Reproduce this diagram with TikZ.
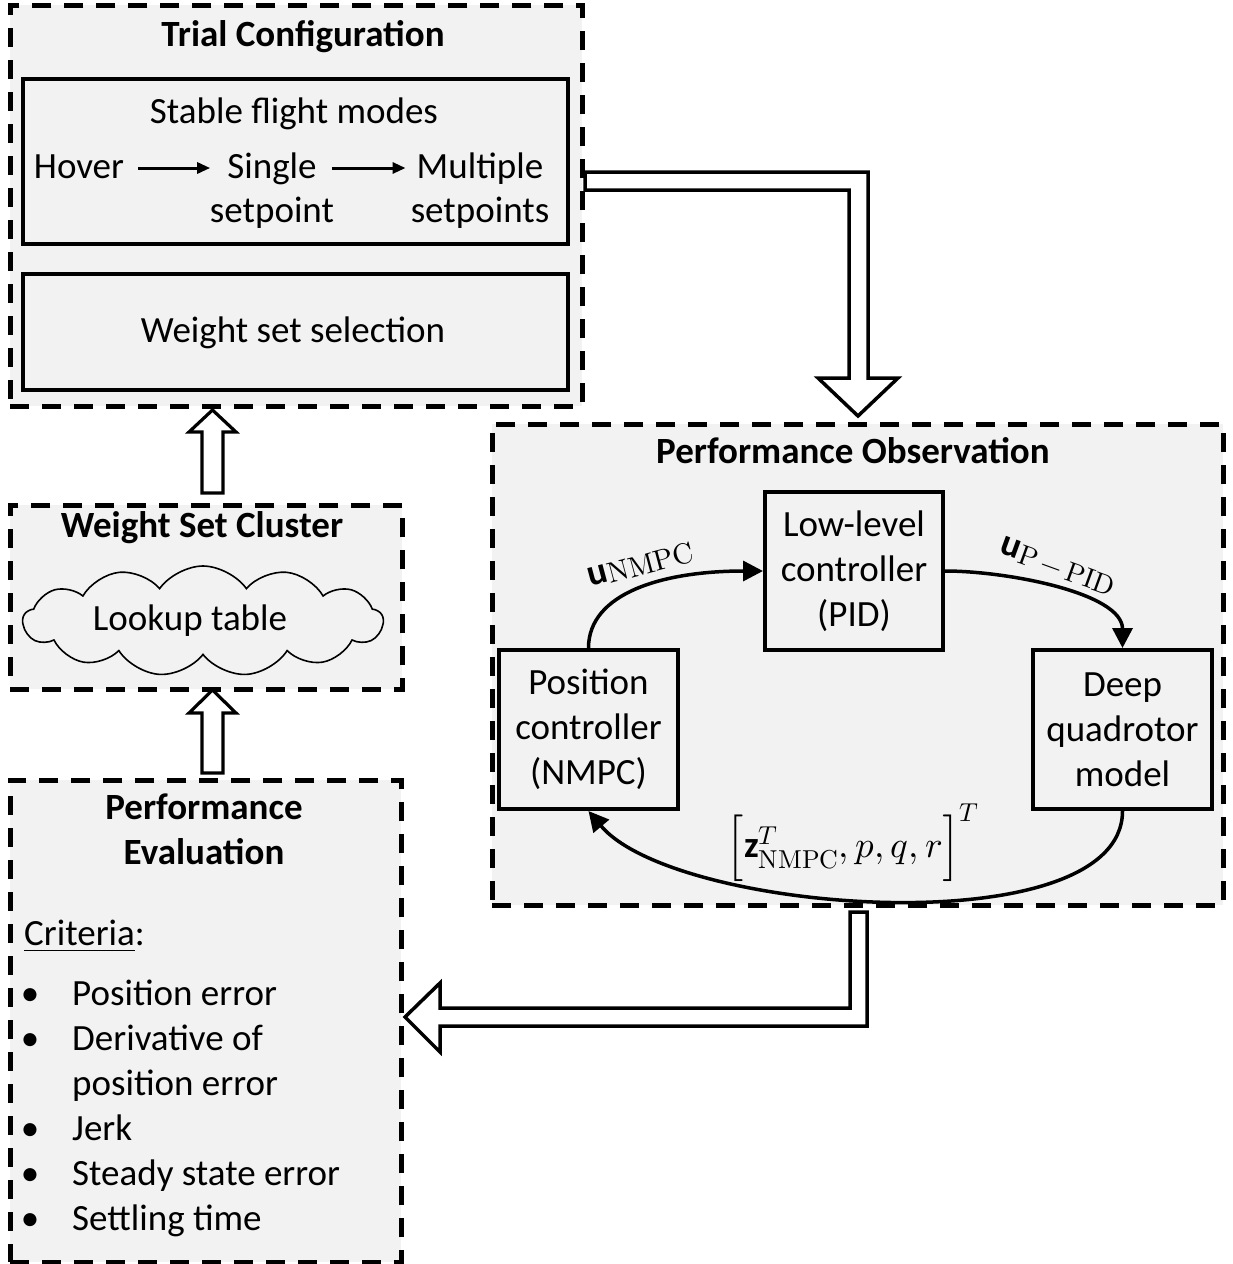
\documentclass[tikz,border=0pt]{standalone}
\usepackage{fontspec}
\usepackage{unicode-math}
\setmainfont{Carlito}
\usetikzlibrary{arrows.meta,shapes.symbols}
\definecolor{bg}{HTML}{F2F2F2}
\begin{document}
\begin{tikzpicture}[x=1pt,y=1pt,
  dbox/.style={draw, line width=4.5pt, dash pattern=on 19pt off 13pt, fill=bg, inner sep=0, anchor=north west},
  ibox/.style={draw, line width=4pt, fill=bg, inner sep=0, align=center, font=\fontsize{37}{45}\selectfont},
  txt/.style={inner sep=0, font=\fontsize{37}{45}\selectfont, anchor=base},
  ttl/.style={inner sep=0, font=\fontsize{37}{45}\selectfont\bfseries, anchor=base},
  lbl/.style={inner sep=0, font=\fontsize{37}{45}\selectfont},
  flow/.style={line width=3.5pt, -{Triangle[length=20pt,width=20pt]}},
  smallarr/.style={line width=3pt, -{Triangle[length=13pt,width=11pt]}},
  bigarrow/.style={draw, line width=3.5pt, fill=white, line join=miter}]
\useasboundingbox (0,0) rectangle (1233,-1264);

% ---------- containers ----------
\node[dbox, minimum width=572pt, minimum height=401pt] (trial) at (8,-3) {};
\node[dbox, minimum width=731pt, minimum height=481pt] (obs) at (490,-422) {};
\node[dbox, minimum width=392pt, minimum height=184pt] (cluster) at (8,-503) {};
\node[dbox, minimum width=391pt, minimum height=482pt] (eval) at (8,-778) {};

% ---------- Trial configuration ----------
\node[ttl] (trialttl) at (303,-46) {Trial Configuration};
\node[draw, line width=4pt, fill=bg, anchor=north west, minimum width=545pt, minimum height=165pt, inner sep=0] (modes) at (21,-77) {};
\node[draw, line width=4pt, fill=bg, anchor=north west, minimum width=545pt, minimum height=116pt, inner sep=0] (wsel) at (21,-272) {};
\node[txt] (stable) at (294,-123) {Stable flight modes};
\node[txt] (hover) at (79,-178) {Hover};
\node[txt] (single) at (272,-178) {Single};
\node[txt] (single2) at (272,-222) {setpoint};
\node[txt] (multi) at (480,-178) {Multiple};
\node[txt] (multi2) at (480,-222) {setpoints};
\draw[smallarr] ([xshift=14pt]hover.east |- 0,-168) -- ([xshift=-17pt]single.west |- 0,-168);
\draw[smallarr] ([xshift=15pt]single.east |- 0,-168) -- ([xshift=-11pt]multi.west |- 0,-168);
\node[txt] (wseltxt) at (293,-342) {Weight set selection};

% ---------- Weight set cluster ----------
\node[ttl] (clusterttl) at (202,-537) {Weight Set Cluster};
\node[cloud, cloud puffs=13, cloud puff arc=110, aspect=3.3, draw, line width=1.6pt, fill=bg,
      minimum width=360pt, minimum height=110pt, inner sep=0] (cloud) at (203,-621) {};
\node[txt] (lookup) at (190,-630) {Lookup table};

% ---------- Performance evaluation ----------
\node[ttl] (pe1) at (204,-819) {Performance};
\node[ttl] (pe2) at (204,-864) {Evaluation};
\node[txt, anchor=base west] (crit) at (24,-945) {\underline{Criteria}:};
\foreach \y/\t [count=\i] in {1005/Position error,1050/Derivative of,1095/position error,1140/Jerk,1185/Steady state error,1230/Settling time}{
  \node[txt, anchor=base west] (item\i) at (72,-\y) {\t};
}
\foreach \y [count=\i] in {1005,1050,1140,1185,1230}{
  \node[txt] (bul\i) at (30,-\y) {•};
}

% ---------- Performance observation ----------
\node[ttl] (obsttl) at (853,-463) {Performance Observation};
\node[ibox, minimum width=178pt, minimum height=158pt] (llc) at (854,-571) {Low-level\\controller\\(PID)};
\node[ibox, minimum width=179pt, minimum height=159pt] (pos) at (588.5,-729.5) {Position\\controller\\(NMPC)};
\node[ibox, minimum width=179pt, minimum height=159pt] (dqm) at (1122.5,-729.5) {Deep\\quadrotor\\model};

\draw[flow] (pos.north) .. controls +(0,55) and +(-100,0) .. (llc.west);
\draw[flow] (llc.east) .. controls +(62,0) and +(0,55) .. (dqm.north);
\draw[flow] (dqm.south) to[out=-90,in=-50,looseness=0.65] (pos.south);

\node[lbl, rotate=15] (unmpc) at (641,-565) {{\bfseries u}\raisebox{-3pt}{\fontsize{29}{29}\selectfont$\symup{NMPC}$}};
\node[lbl, rotate=-20] (upid) at (1058,-566) {{\bfseries u}\raisebox{-3pt}{\fontsize{28}{28}\selectfont$\symup{P}{\,-\,}\symup{PID}$}};
\node[lbl] (zlbl) at (853,-843) {$\Bigl[\mbox{\bfseries z}^{T}_{\symup{NMPC}}, p, q, r\Bigr]^{T}$};

% ---------- big hollow arrows ----------
\draw[bigarrow] (585,-172) -- (868,-172) -- (868,-378) -- (898,-378) -- (858,-416) -- (818,-378) -- (849,-378) -- (849,-190) -- (585,-190) -- cycle;
\draw[bigarrow] (850,-912) -- (867,-912) -- (867,-1026) -- (440,-1026) -- (440,-1052) -- (405,-1017) -- (440,-983) -- (440,-1008) -- (850,-1008) -- cycle;
\draw[bigarrow, line width=3.2pt] (202,-493) -- (223,-493) -- (223,-432) -- (236,-432) -- (212.5,-410) -- (189,-432) -- (202,-432) -- cycle;
\draw[bigarrow, line width=3.2pt] (202,-773) -- (223,-773) -- (223,-713) -- (236,-713) -- (212.5,-690) -- (189,-713) -- (202,-713) -- cycle;
\end{tikzpicture}
\end{document}
